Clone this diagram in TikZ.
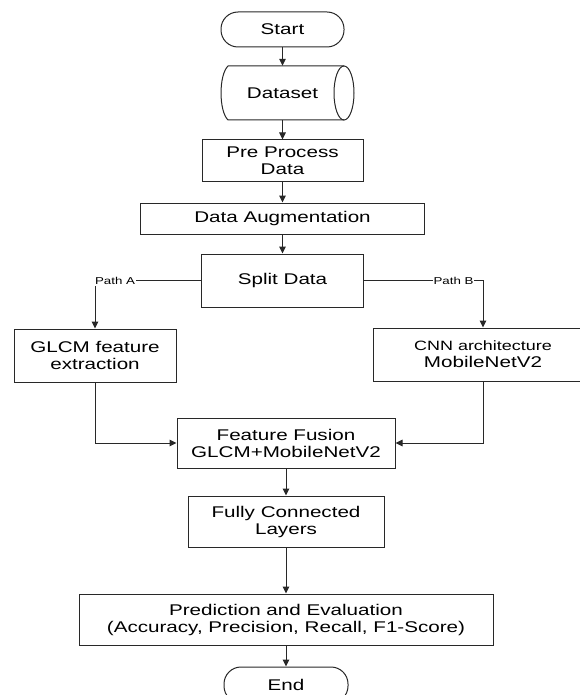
\documentclass[tikz,border=0pt]{standalone}
\usepackage{fontspec}
\setmainfont{Liberation Sans}[FakeStretch=1.33]
\usetikzlibrary{arrows.meta}
\definecolor{lc}{RGB}{40,40,40}
\begin{document}
\begin{tikzpicture}[x=1pt,y=-1pt,
  font=\fontsize{15.5}{17}\selectfont,
  box/.style={draw=lc, line width=1pt, inner sep=0pt, align=center},
  term/.style={box, rounded corners=17pt},
  arr/.style={draw=lc, line width=1pt, -{Triangle[length=7pt,width=6.5pt]}},
  plain/.style={draw=lc, line width=1pt},
  lbl/.style={fill=white, inner sep=1pt, font=\fontsize{10}{12}\selectfont}]
\useasboundingbox (0,0) rectangle (579,695);
\fill[white] (0,0) rectangle (579,695);
% nodes
\node[term, minimum width=123pt, minimum height=35pt] (start) at (282.5,29.5) {Start};
\node[inner sep=0pt, minimum width=124pt, minimum height=54pt] (data) at (282.5,93) {Dataset};
\draw[plain] (344,93) ellipse [x radius=10, y radius=27];
\draw[plain] (344,66) -- (228,66) .. controls (218.7,75) and (218.7,111) .. (228,120) -- (344,120);
\node[box, minimum width=161pt, minimum height=41pt] (pre) at (282.5,160.5) {Pre Process\\Data};
\node[box, minimum width=284pt, minimum height=31pt] (aug) at (282.5,218.5) {Data Augmentation};
\node[box, minimum width=162pt, minimum height=53pt] (split) at (282.5,280.5) {Split Data};
\node[box, minimum width=162pt, minimum height=53pt] (glcm) at (95,355.5) {GLCM feature\\extraction};
\node[box, minimum width=220pt, minimum height=53pt] (cnn) at (483,354.5) {{\fontsize{13.5}{16}\selectfont CNN architecture}\\MobileNetV2};
\node[box, minimum width=218pt, minimum height=50pt] (fusion) at (286,443) {Feature Fusion\\GLCM+MobileNetV2};
\node[box, minimum width=196pt, minimum height=51pt] (fc) at (286,521.5) {Fully Connected\\Layers};
\node[box, minimum width=414pt, minimum height=51pt] (pred) at (286,619.5) {Prediction and Evaluation\\(Accuracy, Precision, Recall, F1-Score)};
\node[term, minimum width=124pt, minimum height=36pt] (end) at (286,685) {End};
% connectors
\draw[arr] (start.south) -- (data.north);
\draw[arr] (data.south) -- (pre.north);
\draw[arr] (pre.south) -- (aug.north);
\draw[arr] (aug.south) -- (split.north);
\draw[arr] (split.west) -| (glcm.north);
\draw[arr] (split.east) -| (cnn.north);
\node[lbl] (pa) at (115,281) {Path A};
\node[lbl] (pb) at (453.5,281) {Path B};
\draw[arr] (glcm.south) |- (fusion.west);
\draw[arr] (cnn.south) |- (fusion.east);
\draw[arr] (fusion.south) -- (fc.north);
\draw[arr] (fc.south) -- (pred.north);
\draw[arr] (pred.south) -- (end.north);
\end{tikzpicture}
\end{document}
